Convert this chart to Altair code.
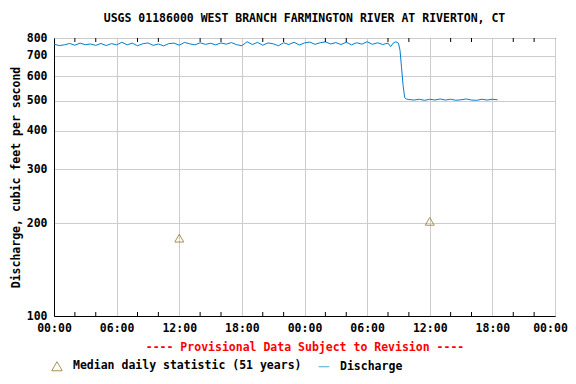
import altair as alt
import pandas as pd

FONT = "DejaVu Sans Mono"
FS = 11.5
TITLE = "USGS 01186000 WEST BRANCH FARMINGTON RIVER AT RIVERTON, CT"
Y_TITLE = "Discharge, cubic feet per second"
X_TITLE = "---- Provisional Data Subject to Revision ----"
SERIES = ["Median daily statistic (51 years)", "Discharge"]
COLORS = ["#8B6508", "#0080D0"]
Y_TICKS = [100, 200, 300, 400, 500, 600, 700, 800]

# Discharge: half-hourly readings, day 1 00:00 -> day 2 08:00
reg_hours = [i * 0.5 for i in range(65)]
reg_values = [
    764, 756, 760, 768, 758, 770, 761, 765, 757, 768, 756, 767, 760,
    775, 760, 770, 755, 766, 771, 757, 765, 754, 767, 770, 758,
    774, 766, 760, 772, 763, 769, 760, 771, 764, 773, 761, 755,
    778, 762, 774, 758, 771, 766, 755, 772, 762, 775, 759, 771,
    776, 763, 772, 777, 765, 773, 762, 775, 760, 772, 764, 778,
    763, 772, 762, 770,
]
drop_hours = [32.25, 32.5, 32.75, 33.0, 33.15, 33.3, 33.45, 33.6, 33.75, 34.0]
drop_values = [750, 770, 778, 770, 730, 640, 560, 512, 507, 505]
late_hours = [34.5 + i * 0.5 for i in range(17)]
late_values = [503, 506, 502, 506, 503, 507, 503, 506, 502, 504, 507, 503, 502, 506, 503, 506, 504]

hours = reg_hours + drop_hours + late_hours
values = reg_values + drop_values + late_values

base = pd.Timestamp("2024-05-01")


def stamp(h):
    return (base + pd.Timedelta(hours=h)).strftime("%Y-%m-%dT%H:%M:%S")


df_line = pd.DataFrame({"time": [stamp(h) for h in hours], "value": values})

med_times = ["2024-05-01T12:00:00", "2024-05-02T12:00:00"]
med_values = [179, 203]
df_med = pd.DataFrame({"time": med_times, "value": med_values, "series": SERIES[0]})

minor_hours = [h for h in range(2, 48, 2) if h % 6 != 0]
df_minor = pd.DataFrame({"time": [stamp(h) for h in minor_hours]})

major_ticks = [alt.DateTime(year=2024, month=5, date=1 + h // 24, hours=h % 24)
               for h in range(0, 49, 6)]

x_scale = alt.Scale(domain=[alt.DateTime(year=2024, month=5, date=1),
                            alt.DateTime(year=2024, month=5, date=3)])
y_scale = alt.Scale(type="log", domain=[100, 800], nice=False)

last_label_shift = {"condition": {"test": "datum.value > datetime(2024, 4, 2, 23)", "value": -5},
                    "value": 0}

x_enc = alt.X("time:T", scale=x_scale, title=X_TITLE,
              axis=alt.Axis(format="%H:%M", values=major_ticks,
                            ticks=False, labelPadding=6, titlePadding=8,
                            titleColor="#FF0000", labelFlush=False,
                            labelOffset=last_label_shift))
y_enc = alt.Y("value:Q", scale=y_scale, title=Y_TITLE,
              axis=alt.Axis(values=Y_TICKS, ticks=False, labelPadding=7, titlePadding=5))

legend = alt.Legend(title=None, orient="none", legendX=-3, legendY=322,
                    direction="horizontal", columnPadding=14, labelOffset=10,
                    symbolSize=110, symbolStrokeWidth=1)

ticks_bottom = alt.Chart(df_minor).mark_rule(color="black", strokeWidth=1).encode(
    x="time:T", y=alt.value(274), y2=alt.value(278))
ticks_top = alt.Chart(df_minor).mark_rule(color="black", strokeWidth=1).encode(
    x="time:T", y=alt.value(0), y2=alt.value(4))

line = alt.Chart(df_line).mark_line(color=COLORS[1], strokeWidth=1).encode(x=x_enc, y=y_enc)

pts = alt.Chart(df_med).mark_point(filled=False, size=80, strokeWidth=1).encode(
    x="time:T",
    y="value:Q",
    color=alt.Color("series:N", scale=alt.Scale(domain=SERIES, range=COLORS), legend=legend),
    shape=alt.Shape("series:N", scale=alt.Scale(domain=SERIES, range=["triangle-up", "stroke"]),
                    legend=legend),
)

chart = alt.layer(line, ticks_bottom, ticks_top, pts).properties(
    width=501,
    height=278,
    autosize=alt.AutoSizeParams(type="none"),
    padding={"left": 46, "top": 30, "right": 13, "bottom": 58},
    title=alt.TitleParams(TITLE, font=FONT, fontSize=FS, fontWeight="bold",
                          color="black", anchor="middle", offset=8),
).configure_view(
    stroke="black", strokeWidth=1
).configure_axis(
    labelFont=FONT, labelFontSize=FS, labelFontWeight="bold", labelColor="black",
    titleFont=FONT, titleFontSize=FS, titleFontWeight="bold",
    gridColor="#cccccc", gridWidth=1, domainColor="black",
).configure_axisY(
    titleColor="black"
).configure_legend(
    labelFont=FONT, labelFontSize=FS, labelFontWeight="bold", labelColor="black",
    labelLimit=400,
)

chart.save("out.html", embed_options={"renderer": "svg", "actions": False})
